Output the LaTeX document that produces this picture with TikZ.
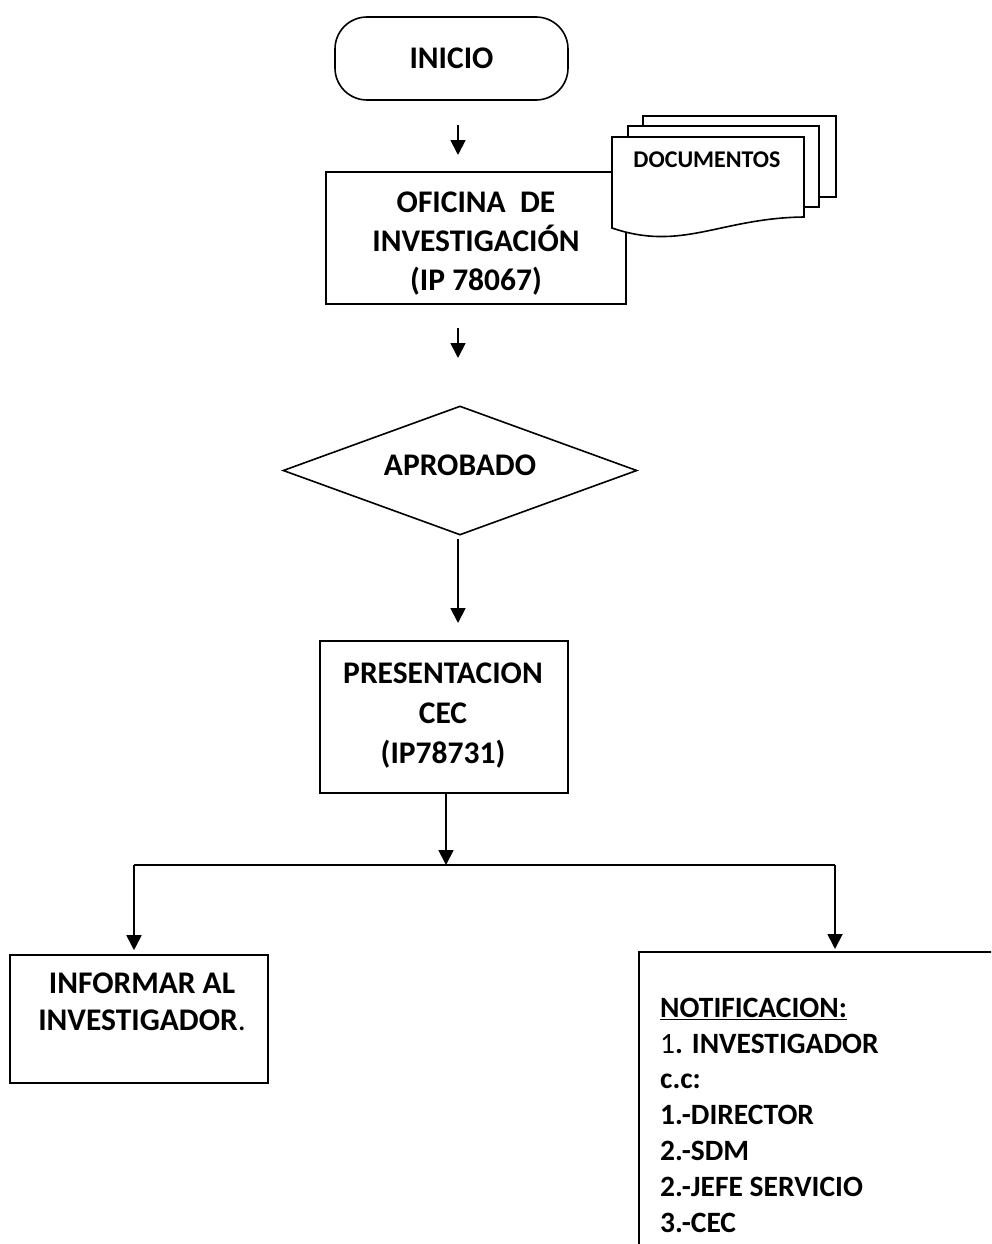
\documentclass[tikz,border=0pt]{standalone}
\usepackage{fontspec}
\setmainfont{Carlito}
\usetikzlibrary{shapes.geometric,arrows.meta}
\begin{document}
\begin{tikzpicture}[x=1pt,y=-1pt,
  box/.style={draw,rectangle,inner sep=0pt,line width=1.6pt},
  sheet/.style={draw,fill=white,line width=1.6pt},
  txt/.style={inner sep=0pt,align=center,font=\fontsize{31.5}{39}\selectfont\bfseries},
  arr/.style={-{Triangle[length=15pt,width=15pt]},line width=1.8pt},
  conn/.style={line width=1.6pt}
]
\useasboundingbox (0,0) rectangle (991,1244);

% INICIO
\node[box,rounded corners=32pt,minimum width=233pt,minimum height=83pt,
      font=\fontsize{31.5}{39}\selectfont\bfseries] (inicio) at (451.5,58.5) {INICIO};

% OFICINA box
\node[box,minimum width=300pt,minimum height=132pt] (ofi) at (476,238) {};
\node[txt,anchor=base] (ofitxt) at (476,290) {OFICINA\ \ DE\\INVESTIGACIÓN\\(IP 78067)};

% Documents (stacked sheets)
\draw[sheet] (643,116) rectangle (836,197);
\draw[sheet] (628,126) rectangle (819,207);
\draw[sheet] (612,137) -- (804,137) -- (804,217)
   .. controls (720,218) and (682,252) .. (612,228) -- cycle;
\node[inner sep=0pt,anchor=base,font=\fontsize{24}{28}\selectfont\bfseries] (doctxt) at (707,167) {DOCUMENTOS};

% Diamond
\node[draw,diamond,line width=1.6pt,inner sep=0pt,minimum width=354pt,minimum height=129pt] (dia) at (460,470.5) {};
\node[txt,anchor=base] (diatxt) at (460,475) {APROBADO};

% PRESENTACION box
\node[box,minimum width=248pt,minimum height=152pt] (pres) at (444,717) {};
\node[txt,anchor=base,font=\fontsize{31.5}{40}\selectfont\bfseries] (prestxt) at (443,763) {PRESENTACION\\CEC\\(IP78731)};

% INFORMAR box
\node[box,minimum width=258pt,minimum height=128pt] (inf) at (139,1019) {};
\node[txt,anchor=base,font=\fontsize{31.5}{37}\selectfont\bfseries] (inftxt) at (142,1030) {INFORMAR AL\\INVESTIGADOR{\mdseries .}};

% NOTIFICACION box (cut by the page edge)
\begin{scope}
\clip (0,0) rectangle (991,1244);
\node[box,anchor=north west,minimum width=420pt,minimum height=340pt] (noti) at (638,951) {};
\end{scope}
\node[inner sep=0pt,align=left,anchor=base west,font=\fontsize{29.5}{35.8}\selectfont\bfseries] (notitxt) at (660,1232)
  {\underline{NOTIFICACION:}\\{\mdseries 1}. INVESTIGADOR\\c.c:\\1.-DIRECTOR\\2.-SDM\\2.-JEFE SERVICIO\\3.-CEC};

% Arrows
\coordinate (a1s) at (458,125);
\coordinate (a1e) at (458,155);
\draw[arr] (a1s) -- (a1e);
\coordinate (a2s) at (458,328);
\coordinate (a2e) at (458,358);
\draw[arr] (a2s) -- (a2e);
\coordinate (a3s) at (458,539);
\coordinate (a3e) at (458,623);
\draw[arr] (a3s) -- (a3e);

\coordinate (jl) at (134,865);
\coordinate (jr) at (835,865);
\coordinate (jm) at (446,865);
\coordinate (ps) at (446,793);
\draw[conn] (jl) -- (jr);
\draw[arr] (ps) -- (jm);
\draw[arr] (jl) -- ([yshift=4pt]inf.north -| jl);
\draw[arr] (jr) -- ([yshift=2pt]noti.north -| jr);
\end{tikzpicture}
\end{document}
